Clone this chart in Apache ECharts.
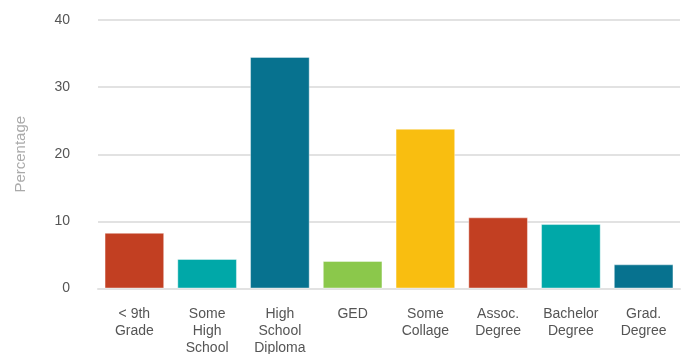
<!DOCTYPE html>
<html><head><meta charset="utf-8">
<script src="https://cdn.jsdelivr.net/npm/echarts@6/dist/echarts.min.js"></script>
<style>html,body{margin:0;padding:0;background:#fff}#c{width:692px;height:354px}</style>
</head><body><div id="c"></div>
<script>
const categories = ['< 9th\nGrade','Some\nHigh\nSchool','High\nSchool\nDiploma','GED','Some\nCollage','Assoc.\nDegree','Bachelor\nDegree','Grad.\nDegree'];
const values = [8.3, 4.4, 34.5, 4.1, 23.8, 10.6, 9.6, 3.6];
const colors = ['#C23F22','#00A8A8','#07728F','#8BC84B','#F9BE10','#C23F22','#00A8A8','#07728F'];
const yTicks = {min:0, max:40, interval:10};
const chart = echarts.init(document.getElementById('c'));
chart.setOption({
  animation:false,
  textStyle:{fontFamily:'Liberation Sans, Arial, sans-serif'},
  grid:{left:98, right:12, top:20, bottom:65.5, outerBoundsMode:'none', containLabel:false},
  xAxis:{type:'category', data:categories,
    axisLine:{show:true, lineStyle:{color:'#e2e2e2', width:2}},
    axisTick:{show:false},
    axisLabel:{color:'#555', fontSize:14, lineHeight:17, margin:17, interval:0}},
  yAxis:{type:'value', min:yTicks.min, max:yTicks.max, interval:yTicks.interval,
    name:'Percentage', nameLocation:'middle', nameGap:70, nameRotate:90,
    nameTextStyle:{color:'#aaa', fontSize:15},
    axisLine:{show:false}, axisTick:{show:false},
    axisLabel:{color:'#555', fontSize:14, margin:28},
    splitLine:{lineStyle:{color:'#e2e2e2', width:2}}},
  series:[{type:'bar', data:values.map((v,i)=>({value:v, itemStyle:{color:colors[i]}})),
    barCategoryGap:'18%', itemStyle:{borderColor:'rgba(255,255,255,0.4)', borderWidth:1}}]
});
</script></body></html>
